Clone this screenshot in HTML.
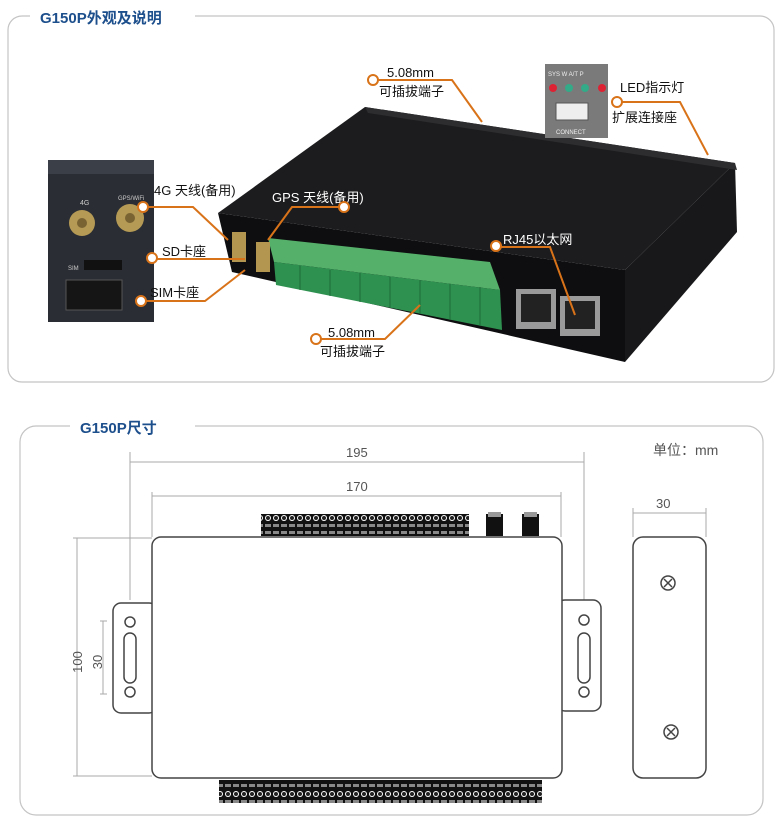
<!DOCTYPE html>
<html><head><meta charset="utf-8"><style>
html,body{margin:0;padding:0;background:#fff}
svg{display:block}
text{font-family:"Liberation Sans","Noto Sans CJK SC",sans-serif}
</style></head><body>
<svg width="781" height="819" viewBox="0 0 781 819" xmlns="http://www.w3.org/2000/svg">
<defs>
<pattern id="tb" x="0" y="0" width="8" height="23" patternUnits="userSpaceOnUse">
<rect width="8" height="23" fill="#111"/>
<circle cx="4" cy="12" r="3" fill="#fff"/><circle cx="4" cy="12" r="2" fill="#222"/>
<rect x="1" y="2" width="6" height="3" fill="#888"/><rect x="1" y="18" width="6" height="3" fill="#888"/>
</pattern>
</defs>
<rect x="8" y="16" width="766" height="366" rx="14" fill="none" stroke="#c4c4c4" stroke-width="1.2"/>
<rect x="30" y="5" width="165" height="24" fill="#fff"/>
<text x="40" y="23" font-size="15" font-weight="bold" fill="#1d4f8c">G150P外观及说明</text>

<polygon points="365,107 735,163 625,270 218,213" fill="#1c1c1e"/>
<polygon points="218,213 625,270 625,362 232,272" fill="#0e0e10"/>
<polygon points="625,270 735,163 737,232 625,362" fill="#18181a"/>
<polygon points="365,107 735,163 737,170 368,113" fill="#2d2d30"/>
<polygon points="268,238 490,262 500,290 274,262" fill="#55b06a"/>
<polygon points="274,262 500,290 502,330 276,285" fill="#2f9150"/>
<g stroke="#1f6b38" stroke-width="1">
<line x1="300" y1="266" x2="300" y2="290"/><line x1="330" y1="270" x2="330" y2="296"/>
<line x1="360" y1="273" x2="360" y2="302"/><line x1="390" y1="277" x2="390" y2="308"/>
<line x1="420" y1="280" x2="420" y2="314"/><line x1="450" y1="284" x2="450" y2="320"/>
<line x1="480" y1="287" x2="480" y2="326"/>
</g>
<rect x="232" y="232" width="14" height="30" fill="#b39650"/>
<rect x="256" y="242" width="14" height="30" fill="#b39650"/>
<rect x="516" y="289" width="40" height="40" fill="#9a9a9a"/><rect x="521" y="294" width="30" height="28" fill="#222"/>
<rect x="560" y="296" width="40" height="40" fill="#9a9a9a"/><rect x="565" y="301" width="30" height="28" fill="#222"/>

<rect x="48" y="160" width="106" height="162" fill="#2a2d33"/>
<rect x="48" y="160" width="106" height="14" fill="#3b4048"/>
<circle cx="82" cy="223" r="13" fill="#b59a55"/><circle cx="82" cy="223" r="5" fill="#7a6333"/>
<circle cx="130" cy="218" r="14" fill="#b59a55"/><circle cx="130" cy="218" r="5" fill="#7a6333"/>
<rect x="84" y="260" width="38" height="10" fill="#111"/>
<rect x="66" y="280" width="56" height="30" fill="#151515" stroke="#555"/>
<text x="80" y="205" font-size="7" fill="#ccc">4G</text>
<text x="118" y="200" font-size="6" fill="#ccc">GPS/WiFi</text>
<text x="68" y="270" font-size="6" fill="#ccc">SIM</text>

<rect x="545" y="64" width="63" height="74" fill="#7a7a7a"/>
<text x="548" y="76" font-size="6" fill="#eee">SYS  W  A/T  P</text>
<circle cx="553" cy="88" r="4" fill="#d23"/><circle cx="569" cy="88" r="4" fill="#3a8"/>
<circle cx="585" cy="88" r="4" fill="#3a8"/><circle cx="602" cy="88" r="4" fill="#d23"/>
<rect x="556" y="103" width="32" height="17" fill="#eee" stroke="#555"/>
<text x="556" y="134" font-size="6" fill="#eee">CONNECT</text>

<g font-size="13" fill="#111">
<text x="387" y="77">5.08mm</text><text x="379" y="96">可插拔端子</text>
<text x="620" y="92">LED指示灯</text><text x="612" y="122">扩展连接座</text>
<text x="154" y="195">4G 天线(备用)</text>
<text x="272" y="202" fill="#fff">GPS 天线(备用)</text>
<text x="162" y="256">SD卡座</text>
<text x="150" y="297">SIM卡座</text>
<text x="328" y="337">5.08mm</text><text x="320" y="356">可插拔端子</text>
<text x="503" y="244" fill="#fff">RJ45以太网</text>
</g>
<g stroke="#d9731a" stroke-width="2" fill="none">
<circle cx="373" cy="80" r="5" fill="#fff"/><polyline points="378,80 452,80 482,122"/>
<circle cx="617" cy="102" r="5" fill="#fff"/><polyline points="622,102 680,102 708,155"/>
<circle cx="143" cy="207" r="5" fill="#fff"/><polyline points="148,207 193,207 228,240"/>
<circle cx="344" cy="207" r="5" fill="#fff"/><polyline points="339,207 292,207 268,240"/>
<circle cx="152" cy="258" r="5" fill="#fff"/><polyline points="157,259 245,259"/>
<circle cx="141" cy="301" r="5" fill="#fff"/><polyline points="146,301 205,301 245,270"/>
<circle cx="316" cy="339" r="5" fill="#fff"/><polyline points="321,339 385,339 420,305"/>
<circle cx="496" cy="246" r="5" fill="#fff"/><polyline points="501,247 550,247 575,315"/>
</g>

<rect x="20" y="426" width="743" height="389" rx="16" fill="none" stroke="#c4c4c4" stroke-width="1.2"/>
<rect x="70" y="414" width="125" height="26" fill="#fff"/>
<text x="80" y="433" font-size="15" font-weight="bold" fill="#1d4f8c">G150P尺寸</text>
<text x="653" y="455" font-size="14" fill="#555">单位：mm</text>

<g stroke="#aaa" stroke-width="1" fill="none">
<line x1="130" y1="452" x2="130" y2="600"/><line x1="584" y1="452" x2="584" y2="600"/>
<line x1="130" y1="462" x2="584" y2="462"/>
<line x1="152" y1="492" x2="152" y2="537"/><line x1="561" y1="492" x2="561" y2="537"/>
<line x1="152" y1="496" x2="561" y2="496"/>
<line x1="77" y1="538" x2="77" y2="776"/><line x1="73" y1="538" x2="152" y2="538"/><line x1="73" y1="776" x2="152" y2="776"/>
<line x1="103" y1="621" x2="103" y2="694"/><line x1="100" y1="621" x2="107" y2="621"/><line x1="100" y1="694" x2="107" y2="694"/>
<line x1="633" y1="508" x2="633" y2="537"/><line x1="706" y1="508" x2="706" y2="537"/>
<line x1="633" y1="513" x2="706" y2="513"/>
<polyline points="245,665 165,665 135,690"/>
</g>
<g font-size="13" fill="#555">
<text x="346" y="457">195</text><text x="346" y="491">170</text><text x="656" y="508">30</text>
<text x="72" y="672" transform="rotate(-90 72 662)" text-anchor="middle">100</text>
<text x="98" y="666" transform="rotate(-90 98 662)" text-anchor="middle">30</text>
</g>
<text x="168" y="660" font-size="17" fill="#999">4× ∅3.1</text>

<g stroke="#444" stroke-width="1.5" fill="#fff">
<rect x="113" y="603" width="44" height="110" rx="8"/>
<rect x="557" y="600" width="44" height="111" rx="8"/>
<rect x="152" y="537" width="410" height="241" rx="9"/>
<rect x="633" y="537" width="73" height="241" rx="10"/>
<circle cx="130" cy="622" r="5"/><circle cx="130" cy="692" r="5"/>
<rect x="124" y="633" width="12" height="50" rx="6"/>
<circle cx="584" cy="620" r="5"/><circle cx="584" cy="692" r="5"/>
<rect x="578" y="633" width="12" height="50" rx="6"/>
<circle cx="668" cy="583" r="7"/><circle cx="671" cy="732" r="7"/>
</g>
<g stroke="#444" stroke-width="1.5">
<line x1="664" y1="579" x2="672" y2="587"/><line x1="672" y1="579" x2="664" y2="587"/>
<line x1="667" y1="728" x2="675" y2="736"/><line x1="675" y1="728" x2="667" y2="736"/>
</g>
<rect x="261" y="514" width="208" height="22" fill="url(#tb)"/>
<rect x="486" y="514" width="17" height="22" fill="#111"/><rect x="488" y="512" width="13" height="5" fill="#999"/>
<rect x="522" y="514" width="17" height="22" fill="#111"/><rect x="524" y="512" width="13" height="5" fill="#999"/>
<rect x="219" y="780" width="323" height="23" fill="url(#tb)"/>
</svg>
</body></html>
